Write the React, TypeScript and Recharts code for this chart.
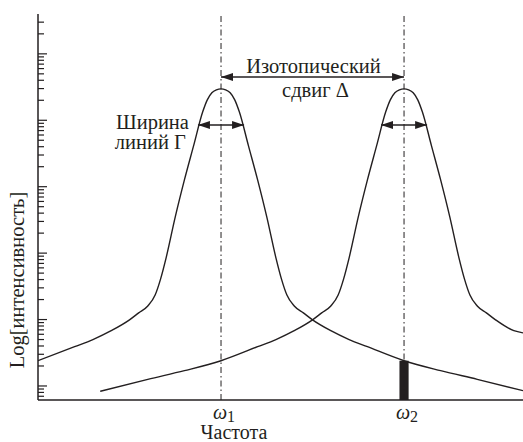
import { LineChart, Line, XAxis, YAxis, ReferenceLine, ReferenceArea } from "recharts";

// line 1, centred on omega_1
const freq1 = [0, 2, 3, 4, 5, 5.5, 6, 6.4, 6.7, 7, 7.5, 8, 8.5, 9, 9.25, 9.5, 9.75, 10, 10.25, 10.5, 10.75, 11, 11.5, 12, 12.5, 13, 13.3, 13.6, 14, 14.5, 15, 16, 17, 18, 20, 22, 24, 26.5];
const int1 = [2.4, 3.9, 5.0, 6.8, 9.9, 12.6, 16, 23.4, 41, 85, 351, 1265, 4120, 13400, 20300, 25900, 28700, 29700, 28700, 25900, 20300, 13400, 4120, 1265, 351, 85, 41, 23.4, 16, 12.6, 9.9, 6.8, 5.0, 3.9, 2.4, 1.7, 1.26, 0.85];

// line 2, centred on omega_2
const freq2 = [3.4, 6, 8, 10, 12, 13, 14, 15, 15.5, 16, 16.4, 16.7, 17, 17.5, 18, 18.5, 19, 19.25, 19.5, 19.75, 20, 20.25, 20.5, 20.75, 21, 21.5, 22, 22.5, 23, 23.3, 23.6, 24, 24.5, 25, 26, 26.5];
const int2 = [0.83, 1.26, 1.7, 2.4, 3.9, 5.0, 6.8, 9.9, 12.6, 16, 23.4, 41, 85, 351, 1265, 4120, 13400, 20300, 25900, 28700, 29700, 28700, 25900, 20300, 13400, 4120, 1265, 351, 85, 41, 23.4, 16, 12.6, 9.9, 6.8, 6.3];

const xTicks = [10, 20];
const xTickSubs = ["1", "2"];
const xLabel = "Частота";
const yLabel = "Log[интенсивность]";

const yTicks = [
  0.7, 0.8, 0.9,
  1, 2, 3, 4, 5, 6, 7, 8, 9,
  10, 20, 30, 40, 50, 60, 70, 80, 90,
  100, 200, 300, 400, 500, 600, 700, 800, 900,
  1000, 2000, 3000, 4000, 5000, 6000, 7000, 8000, 9000,
  10000, 20000, 30000, 40000, 50000, 60000, 70000, 80000, 90000,
  100000, 200000, 300000,
];
const decades = [1, 10, 100, 1000, 10000, 100000];

// annotations
const shiftLevel = 44900;
const widthLevel = 8500;
const halfWidth = 1.26;
const overlapValue = 2.4; // line 1 at omega_2

const data1 = freq1.map((f, i) => ({ f, v: int1[i] }));
const data2 = freq2.map((f, i) => ({ f, v: int2[i] }));

const INK = "#231f20";
const FONT = '"Liberation Serif", "DejaVu Serif", serif';

function YTick({ x, y, payload }: any) {
  const major = decades.includes(payload.value);
  return <line x1={x} x2={x + (major ? 9 : 6)} y1={y} y2={y} stroke={INK} strokeWidth={1.2} />;
}

function XTick({ x, y, payload }: any) {
  const i = xTicks.indexOf(payload.value);
  return (
    <text x={x + 3} y={y + 19} textAnchor="middle" fontFamily={FONT} fontSize={20} fill={INK}>
      <tspan fontStyle="italic">ω</tspan>
      <tspan fontSize={16} dy={3}>{xTickSubs[i]}</tspan>
    </text>
  );
}

function heads(x1: number, x2: number, y: number) {
  const L = 12, H = 4;
  return (
    <>
      <polygon points={`${x1},${y} ${x1 + L},${y - H} ${x1 + L},${y + H}`} fill={INK} />
      <polygon points={`${x2},${y} ${x2 - L},${y - H} ${x2 - L},${y + H}`} fill={INK} />
    </>
  );
}

function ShiftArrow(p: any) {
  const { x1, x2, y1 } = p;
  const mid = (x1 + x2) / 2;
  return (
    <g>
      <line x1={x1} x2={x2} y1={y1} y2={y1} stroke={INK} strokeWidth={1.4} />
      {heads(x1, x2, y1)}
      <text x={mid + 1} y={y1 - 4} textAnchor="middle" fontFamily={FONT} fontSize={20.5} fill={INK}>Изотопический</text>
      <text x={mid + 3} y={y1 + 20} textAnchor="middle" fontFamily={FONT} fontSize={20.5} fill={INK}>сдвиг Δ</text>
    </g>
  );
}

function WidthArrow(p: any) {
  const { x1, x2, y1, withText } = p;
  return (
    <g>
      <line x1={x1} x2={x2} y1={y1} y2={y1} stroke={INK} strokeWidth={1.4} />
      {heads(x1, x2, y1)}
      {withText && (
        <>
          <text x={x1 - 9} y={y1 + 4} textAnchor="end" fontFamily={FONT} fontSize={20.5} fill={INK}>Ширина</text>
          <text x={x1 - 12} y={y1 + 24} textAnchor="end" fontFamily={FONT} fontSize={20.5} fill={INK}>линий Γ</text>
        </>
      )}
    </g>
  );
}

export default function App() {
  return (
    <div style={{ position: "absolute", left: 0, top: 0, width: 523, height: 442, background: "#fff" }}>
      <LineChart width={523} height={442} margin={{ top: 14, right: 0, left: 0, bottom: 0 }}>
        <XAxis
          type="number"
          dataKey="f"
          domain={[0, 26.5]}
          ticks={xTicks}
          tick={<XTick />}
          tickLine={false}
          tickSize={0}
          tickMargin={0}
          height={42}
          axisLine={{ stroke: INK, strokeWidth: 1.5 }}
          allowDataOverflow
          label={{
            content: ({ viewBox }: any) => (
              <text x={viewBox.x + 196} y={viewBox.y + 39} textAnchor="middle" fontFamily={FONT} fontSize={20} fill={INK}>
                {xLabel}
              </text>
            ),
          }}
        />
        <YAxis
          type="number"
          scale="log"
          domain={[0.615, 398000]}
          allowDataOverflow
          ticks={yTicks}
          interval={0}
          tick={<YTick />}
          tickLine={false}
          tickSize={0}
          tickMargin={0}
          width={38}
          axisLine={{ stroke: INK, strokeWidth: 1.5 }}
          label={{
            content: ({ viewBox }: any) => {
              const cx = viewBox.x + 17;
              const cy = viewBox.y + 266;
              return (
                <text x={cx} y={cy} transform={`rotate(-90 ${cx} ${cy})`} textAnchor="middle" dominantBaseline="central" fontFamily={FONT} fontSize={20.5} fill={INK}>
                  {yLabel}
                </text>
              );
            },
          }}
        />
        <ReferenceArea x1={xTicks[1] - 0.25} x2={xTicks[1] + 0.25} y1={0.615} y2={overlapValue} fill={INK} fillOpacity={1} stroke="none" />
        <ReferenceLine x={xTicks[0]} stroke={INK} strokeWidth={1} strokeDasharray="6 3 1.5 3" />
        <ReferenceLine x={xTicks[1]} stroke={INK} strokeWidth={1} strokeDasharray="6 3 1.5 3" />
        <Line data={data1} dataKey="v" type="monotone" stroke={INK} strokeWidth={1.4} dot={false} isAnimationActive={false} />
        <Line data={data2} dataKey="v" type="monotone" stroke={INK} strokeWidth={1.4} dot={false} isAnimationActive={false} />
        <ReferenceLine
          segment={[{ x: xTicks[0], y: shiftLevel }, { x: xTicks[1], y: shiftLevel }]}
          shape={(p: any) => <ShiftArrow {...p} />}
        />
        <ReferenceLine
          segment={[{ x: xTicks[0] - halfWidth, y: widthLevel }, { x: xTicks[0] + halfWidth, y: widthLevel }]}
          shape={(p: any) => <WidthArrow {...p} withText />}
        />
        <ReferenceLine
          segment={[{ x: xTicks[1] - halfWidth, y: widthLevel }, { x: xTicks[1] + halfWidth, y: widthLevel }]}
          shape={(p: any) => <WidthArrow {...p} />}
        />
      </LineChart>
    </div>
  );
}
